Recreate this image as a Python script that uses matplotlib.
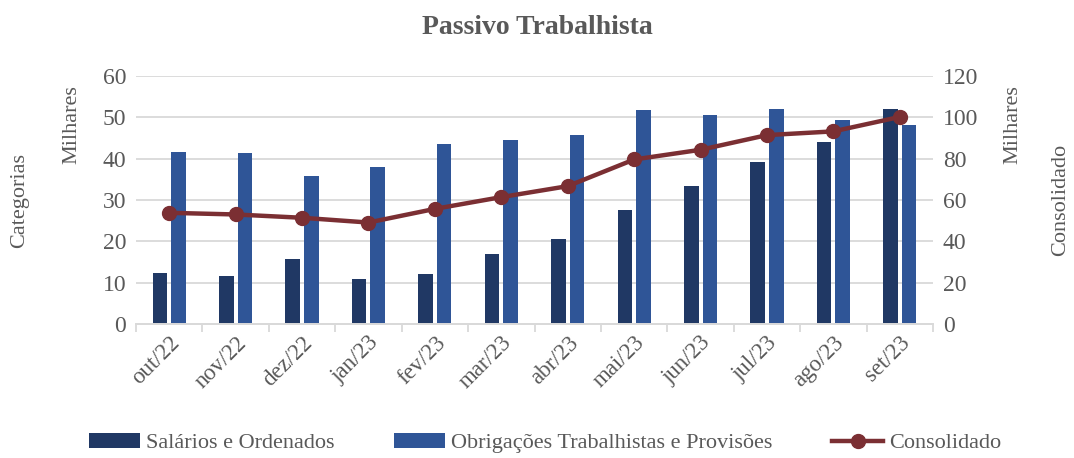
import numpy as np
import matplotlib
matplotlib.use("Agg")
import matplotlib.pyplot as plt
from matplotlib.ticker import MultipleLocator

# Data (values in thousands)
meses = ["out/22", "nov/22", "dez/22", "jan/23", "fev/23", "mar/23",
         "abr/23", "mai/23", "jun/23", "jul/23", "ago/23", "set/23"]
salarios = [12.3, 11.6, 15.7, 11.0, 12.2, 17.0, 20.6, 27.7, 33.4, 39.3, 44.0, 51.9]
obrigacoes = [41.7, 41.4, 35.8, 38.1, 43.5, 44.4, 45.8, 51.7, 50.5, 52.0, 49.4, 48.2]
consolidado = [53.8, 53.0, 51.4, 49.1, 55.7, 61.4, 66.7, 79.6, 84.3, 91.4, 93.2, 100.2]

# Styles
COR_ESCURA = "#203864"
COR_CLARA = "#2F5597"
COR_LINHA = "#7B2F33"
COR_TEXTO = "#595959"
COR_GRADE = "#D9D9D9"
FS = 16

plt.rcParams["font.family"] = ["Liberation Serif", "DejaVu Serif"]

W, H = 1074, 458
fig = plt.figure(figsize=(W / 100, H / 100), dpi=100)
ax1 = fig.add_axes([136 / W, 1 - 324 / H, (933 - 136) / W, (324 - 76) / H])
ax2 = ax1.twinx()

x = np.arange(len(meses))
largura = 0.22
b1 = ax1.bar(x - 0.14, salarios, largura, color=COR_ESCURA, zorder=2,
             label="Salários e Ordenados")
b2 = ax1.bar(x + 0.14, obrigacoes, largura, color=COR_CLARA, zorder=2,
             label="Obrigações Trabalhistas e Provisões")
(l1,) = ax2.plot(x, consolidado, color=COR_LINHA, linewidth=3.2, marker="o",
                 markersize=10, zorder=3, label="Consolidado")

ax1.set_xlim(-0.5, len(meses) - 0.5)
ax1.set_ylim(0, 60)
ax2.set_ylim(0, 120)
ax1.yaxis.set_major_locator(MultipleLocator(10))
ax2.yaxis.set_major_locator(MultipleLocator(20))
ax1.grid(axis="y", color=COR_GRADE, linewidth=1.3, zorder=0)
ax1.set_axisbelow(True)

for a in (ax1, ax2):
    for lado in ("top", "left", "right"):
        a.spines[lado].set_visible(False)
    a.spines["bottom"].set_color(COR_GRADE)
    a.spines["bottom"].set_linewidth(1.3)
    a.tick_params(axis="y", length=0, colors=COR_TEXTO, labelsize=FS + 1, pad=7)

ax1.set_xticks(x)
ax1.set_xticklabels(meses, rotation=45, ha="right", rotation_mode="anchor")
ax1.set_xticks(np.arange(-0.5, len(meses)), minor=True)
ax1.tick_params(axis="x", which="major", length=0, colors=COR_TEXTO,
                labelsize=FS + 0.5, pad=6)
ax1.tick_params(axis="x", which="minor", length=6, color=COR_GRADE, width=1.3)

# Axis titles
fig.text(20 / W, 1 - 200 / H, "Categorias", rotation=90, ha="center",
         va="center", fontsize=FS, color=COR_TEXTO)
fig.text(72 / W, 1 - 125 / H, "Milhares", rotation=90, ha="center",
         va="center", fontsize=FS, color=COR_TEXTO)
fig.text(1013 / W, 1 - 125 / H, "Milhares", rotation=90, ha="center",
         va="center", fontsize=FS, color=COR_TEXTO)
fig.text(1061 / W, 1 - 200 / H, "Consolidado", rotation=90, ha="center",
         va="center", fontsize=FS, color=COR_TEXTO)

fig.suptitle("Passivo Trabalhista", y=1 - 28 / H, va="center", fontsize=20,
             fontweight="bold", color=COR_TEXTO)

leg = fig.legend([b1, b2, l1], [b1.get_label(), b2.get_label(), l1.get_label()],
                 loc="center", bbox_to_anchor=(545 / W, 1 - 443 / H), ncol=3,
                 frameon=False, fontsize=FS, handlelength=2.3,
                 handletextpad=0.25, columnspacing=2.7)
for t in leg.get_texts():
    t.set_color(COR_TEXTO)

fig.savefig("out.png", dpi=100)
